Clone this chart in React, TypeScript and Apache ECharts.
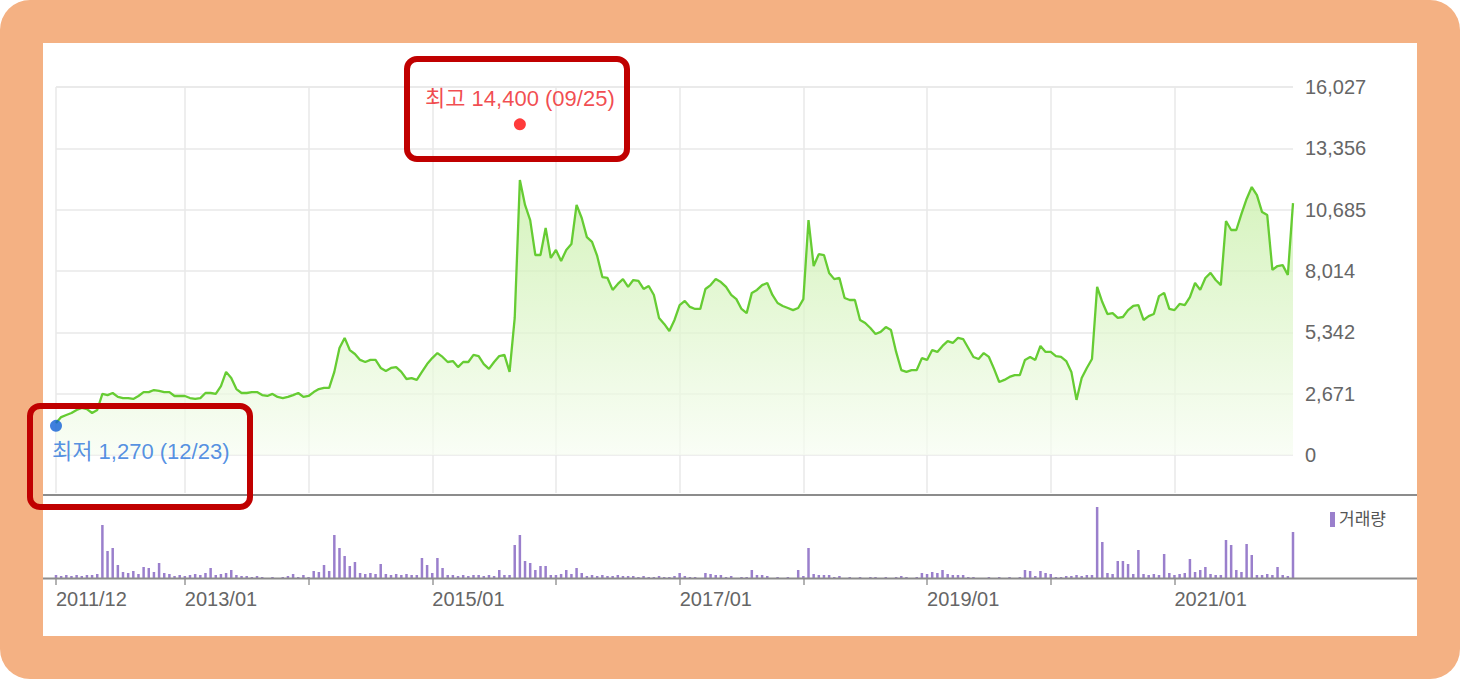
import React, { useEffect, useRef } from "react";
import * as echarts from "echarts";

// ---- categories: half-month periods from the first trading day ----
const CATEGORIES: string[] = ["2011/12/23"];
for (let y = 2012; y <= 2021; y++) {
  for (let m = 1; m <= 12; m++) {
    for (const d of ["01", "16"]) CATEGORIES.push(`${y}/${String(m).padStart(2, "0")}/${d}`);
  }
}

// ---- closing price (won) per period ----
const PRICES = [
  1390, 1650, 1740, 1830, 1960, 2050, 2000, 1830, 1960, 2660,
  2610, 2700, 2530, 2480, 2480, 2440, 2570, 2740, 2740, 2830,
  2790, 2740, 2740, 2570, 2570, 2570, 2480, 2440, 2480, 2700,
  2700, 2660, 3000, 3620, 3350, 2870, 2700, 2700, 2740, 2740,
  2610, 2570, 2660, 2530, 2480, 2530, 2610, 2700, 2530, 2570,
  2740, 2870, 2920, 2920, 3620, 4660, 5100, 4570, 4400, 4140,
  4050, 4140, 4140, 3790, 3660, 3790, 3830, 3620, 3310, 3350,
  3270, 3620, 3960, 4220, 4440, 4270, 4050, 4090, 3830, 4050,
  4050, 4360, 4310, 3960, 3750, 4050, 4310, 4360, 3620, 5970,
  11980, 10890, 10230, 8710, 8710, 9890, 8580, 8930, 8450, 8930,
  9190, 10890, 10320, 9490, 9280, 8670, 7750, 7710, 7190, 7450,
  7660, 7320, 7620, 7580, 7230, 7360, 6970, 5970, 5710, 5400,
  5880, 6530, 6710, 6450, 6360, 6360, 7230, 7400, 7660, 7530,
  7320, 6970, 6790, 6360, 6180, 7060, 7190, 7400, 7490, 6970,
  6620, 6490, 6400, 6310, 6400, 6790, 10230, 8230, 8750, 8710,
  7930, 7660, 7710, 6840, 6750, 6750, 5880, 5750, 5530, 5270,
  5360, 5570, 5440, 4490, 3700, 3620, 3700, 3700, 4220, 4140,
  4570, 4490, 4750, 4960, 4880, 5100, 5050, 4660, 4270, 4180,
  4440, 4270, 3750, 3180, 3270, 3400, 3480, 3480, 4140, 4270,
  4140, 4750, 4490, 4490, 4310, 4270, 4090, 3620, 2400, 3350,
  3790, 4180, 7320, 6660, 6140, 6180, 5970, 6010, 6310, 6490,
  6530, 5880, 6050, 6140, 6920, 7060, 6360, 6310, 6580, 6530,
  6880, 7490, 7190, 7710, 7930, 7620, 7400, 10190, 9800, 9800,
  10500, 11150, 11670, 11320, 10580, 10450, 8060, 8230, 8270, 7840,
  10970,
];

// ---- trading volume (relative units) per period ----
const VOLUMES = [
  3, 2, 3, 2, 3, 2, 3, 3, 4, 53,
  27, 30, 13, 6, 5, 7, 4, 11, 10, 6,
  15, 5, 4, 2, 3, 2, 3, 4, 3, 5,
  10, 3, 4, 5, 8, 3, 2, 2, 1, 2,
  1, 0, 1, 0, 1, 2, 4, 1, 3, 1,
  7, 6, 13, 7, 43, 30, 22, 12, 16, 5,
  4, 5, 4, 14, 4, 3, 4, 3, 4, 3,
  3, 20, 13, 5, 20, 10, 3, 3, 2, 3,
  2, 3, 3, 2, 3, 2, 8, 3, 3, 33,
  43, 17, 15, 8, 12, 12, 3, 3, 4, 8,
  4, 10, 5, 2, 3, 2, 3, 2, 2, 3,
  2, 2, 2, 1, 2, 1, 1, 2, 1, 1,
  2, 5, 2, 1, 1, 0, 5, 4, 3, 3,
  1, 2, 0, 1, 1, 8, 3, 3, 2, 0,
  1, 0, 1, 0, 8, 2, 30, 4, 3, 3,
  3, 1, 2, 0, 1, 0, 1, 0, 1, 1,
  0, 1, 0, 1, 2, 1, 0, 1, 5, 4,
  6, 5, 8, 4, 3, 3, 3, 1, 1, 0,
  0, 1, 0, 1, 0, 1, 0, 1, 8, 7,
  2, 7, 5, 4, 1, 1, 2, 2, 3, 2,
  3, 3, 71, 36, 5, 4, 17, 17, 14, 4,
  28, 4, 3, 4, 3, 24, 5, 3, 4, 5,
  19, 6, 8, 11, 4, 3, 3, 38, 33, 8,
  6, 34, 23, 3, 3, 4, 3, 11, 3, 2,
  46,
];

// ---- axis texts ----
const Y_MAX = 16027;
const Y_SPLITS = 6;
const X_LABELS = ["2011/12", "2013/01", "2015/01", "2017/01", "2019/01", "2021/01"];
const HIGH = { period: "2015/09/16", value: 14400, text: "최고 14,400 (09/25)" };
const LOW = { period: "2011/12/23", value: 1270, text: "최저 1,270 (12/23)" };
const VOLUME_LEGEND = "거래량";

const FONT = "'Liberation Sans', 'Noto Sans CJK KR', sans-serif";

const isYearTick = (i: number) => i === 0 || (CATEGORIES[i].slice(5) === "01/01" && CATEGORIES[i] >= "2013");
const isLabel = (i: number) =>
  i === 0 || (CATEGORIES[i].slice(8) === "01" && X_LABELS.includes(CATEGORIES[i].slice(0, 7)));

export default function App() {
  const ref = useRef<HTMLDivElement>(null);

  useEffect(() => {
    if (!ref.current) return;
    const chart = echarts.init(ref.current, undefined, { renderer: "svg" });
    const L = 56;
    const R = 1460 - 1293;
    const option: any = {
      animation: false,
      textStyle: { fontFamily: FONT },
      grid: [
        { left: L, right: R, top: 87, bottom: 679 - 455 },
        { left: L, right: R, top: 87, bottom: 679 - 493 },
        { left: L, right: R, top: 500, bottom: 679 - 578 },
      ],
      xAxis: [
        { type: "category", gridIndex: 0, data: CATEGORIES, boundaryGap: false, show: false },
        {
          type: "category",
          gridIndex: 1,
          data: CATEGORIES,
          boundaryGap: false,
          axisLine: { show: false },
          axisTick: { show: false },
          axisLabel: { show: false },
          splitLine: {
            show: true,
            interval: (i: number) => isYearTick(i),
            lineStyle: { color: "#e8e8e8", width: 1.5 },
          },
        },
        {
          type: "category",
          gridIndex: 2,
          data: CATEGORIES,
          boundaryGap: false,
          axisLine: { show: false },
          axisTick: {
            show: true,
            interval: (i: number) => isYearTick(i),
            length: 7,
            lineStyle: { color: "#9a9a9a", width: 1.5 },
          },
          axisLabel: {
            show: true,
            interval: (i: number) => isLabel(i),
            formatter: (v: string) => v.slice(0, 7),
            align: "left",
            margin: 11,
            color: "#666",
            fontSize: 20,
            fontFamily: FONT,
          },
          splitLine: { show: false },
        },
      ],
      yAxis: [
        {
          type: "value",
          gridIndex: 0,
          position: "right",
          min: 0,
          max: Y_MAX,
          interval: Y_MAX / Y_SPLITS,
          axisLine: { show: false },
          axisTick: { show: false },
          axisLabel: {
            margin: 12,
            color: "#666",
            fontSize: 20,
            fontFamily: FONT,
            formatter: (v: number) => Math.round(v).toLocaleString("en-US"),
          },
          splitLine: { show: true, lineStyle: { color: "#e8e8e8", width: 1.5 } },
        },
        { type: "value", gridIndex: 1, min: 0, max: 1, show: false },
        { type: "value", gridIndex: 2, min: 0, max: 78, show: false },
      ],
      series: [
        {
          type: "line",
          xAxisIndex: 0,
          yAxisIndex: 0,
          data: PRICES,
          symbol: "none",
          lineStyle: { color: "#66cc33", width: 2.3 },
          areaStyle: {
            color: new echarts.graphic.LinearGradient(0, 0, 0, 1, [
              { offset: 0, color: "#c3eea0" },
              { offset: 1, color: "#f7fdf2" },
            ]),
          },
          z: 2,
        },
        {
          type: "scatter",
          xAxisIndex: 0,
          yAxisIndex: 0,
          clip: false,
          symbolSize: 12,
          data: [
            {
              value: [CATEGORIES.indexOf(HIGH.period), HIGH.value],
              itemStyle: { color: "#ff0a0a" },
              label: {
                show: true,
                position: "top",
                distance: 9,
                formatter: HIGH.text,
                color: "#ee1c24",
                fontSize: 22,
                fontFamily: FONT,
              },
            },
            {
              value: [CATEGORIES.indexOf(LOW.period), LOW.value],
              itemStyle: { color: "#0f5fd6" },
              label: {
                show: true,
                position: "bottom",
                distance: 9,
                align: "left",
                offset: [-4, 0],
                formatter: LOW.text,
                color: "#2a74dc",
                fontSize: 22,
                fontFamily: FONT,
              },
            },
          ],
          z: 5,
        },
        {
          type: "bar",
          xAxisIndex: 2,
          yAxisIndex: 2,
          data: VOLUMES,
          barWidth: 2.5,
          itemStyle: { color: "#9a7fcc" },
        },
      ],
      graphic: [
        { type: "line", shape: { x1: 43, y1: 495, x2: 1417, y2: 495 }, style: { stroke: "#8c8c8c", lineWidth: 2 }, z: 50 },
        { type: "line", shape: { x1: 43, y1: 578.5, x2: 1417, y2: 578.5 }, style: { stroke: "#8c8c8c", lineWidth: 2 }, z: 50 },
        { type: "rect", shape: { x: 1330, y: 512, width: 5, height: 15 }, style: { fill: "#9a7fcc" }, z: 50 },
        {
          type: "text",
          x: 1339,
          y: 519,
          style: { text: VOLUME_LEGEND, fill: "#555", fontSize: 17, fontFamily: FONT, verticalAlign: "middle" },
          z: 50,
        },
        {
          type: "rect",
          shape: { x: 407, y: 59, width: 220, height: 100, r: 10 },
          style: { fill: "none", stroke: "#c00000", lineWidth: 6 },
          z: 100,
        },
        {
          type: "rect",
          shape: { x: 30, y: 406, width: 220, height: 101, r: 10 },
          style: { fill: "none", stroke: "#c00000", lineWidth: 6 },
          z: 100,
        },
      ],
    };
    chart.setOption(option);
    return () => chart.dispose();
  }, []);

  return (
    <div style={{ position: "absolute", left: 0, top: 0, width: 1460, height: 679 }}>
      <div
        style={{ position: "absolute", left: 0, top: 0, width: 1460, height: 679, background: "#f4b183", borderRadius: 30 }}
      />
      <div style={{ position: "absolute", left: 43, top: 43, width: 1374, height: 593, background: "#ffffff" }} />
      <div ref={ref} style={{ position: "absolute", left: 0, top: 0, width: 1460, height: 679 }} />
    </div>
  );
}
